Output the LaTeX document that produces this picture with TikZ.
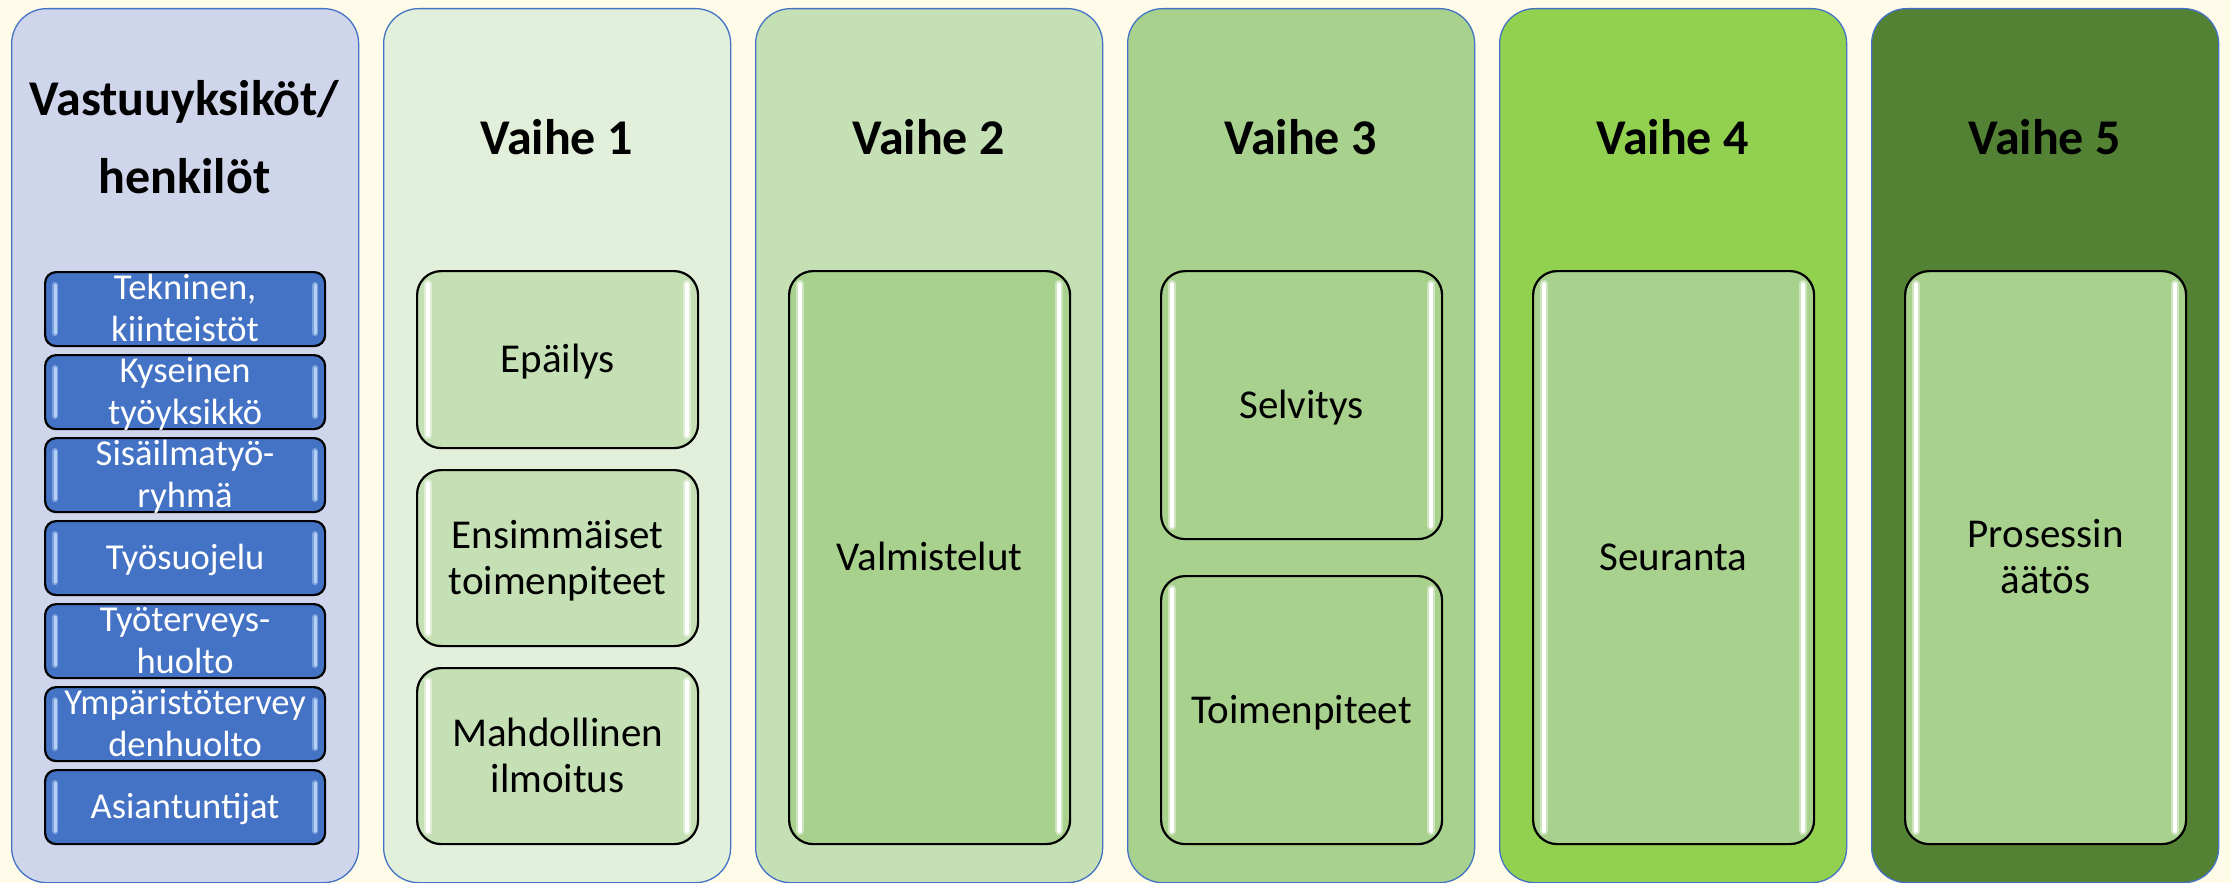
\documentclass[tikz,border=0pt]{standalone}
\usepackage{fontspec}
\setmainfont{Carlito}
\definecolor{bgc}{HTML}{FEFCE8}
\definecolor{colA}{HTML}{CFD5EA}
\definecolor{colB}{HTML}{E2EFDA}
\definecolor{colC}{HTML}{C5E0B4}
\definecolor{colD}{HTML}{A9D18E}
\definecolor{colE}{HTML}{92D050}
\definecolor{colF}{HTML}{548235}
\definecolor{edgeblue}{HTML}{4472C4}
\definecolor{boxblue}{HTML}{4472C4}
\definecolor{glossblue}{HTML}{B4D0F4}
\newcommand\gst{\rule[-9.8pt]{0pt}{46pt}}
\newcommand\bst{\rule[-9.25pt]{0pt}{42pt}}
\newcommand\hst{\rule[-22.9pt]{0pt}{78pt}}
\newcommand\glosspair[3]{%
  \draw[#2] ([xshift=#3,yshift=-14pt]#1.north west) -- ([xshift=#3,yshift=14pt]#1.south west);
  \draw[#2] ([xshift=-#3,yshift=-14pt]#1.north east) -- ([xshift=-#3,yshift=14pt]#1.south east);}
\tikzset{
  column/.style={rectangle, rounded corners=35pt, draw=edgeblue, line width=1.3pt,
    minimum width=347pt, minimum height=874pt, anchor=north west, inner sep=0pt},
  bluebox/.style={rectangle, rounded corners=11pt, draw=black, line width=2.2pt, fill=boxblue,
    minimum width=280pt, minimum height=74pt, anchor=north west, inner sep=0pt},
  greenbox/.style={rectangle, rounded corners=24pt, draw=black, line width=2.2pt,
    minimum width=281pt, anchor=north west, inner sep=0pt},
  heading/.style={font=\fontsize{50}{78}\selectfont\bfseries, align=center, inner sep=0pt, text=black},
  bluetext/.style={font=\fontsize{36.5}{42}\selectfont, align=center, inner sep=0pt, text=white},
  greentext/.style={font=\fontsize{41}{46}\selectfont, align=center, inner sep=0pt, text=black},
  glowg/.style={white, opacity=0.45, line width=8pt, line cap=round},
  lineg/.style={white, line width=3.5pt, line cap=round},
  glowb/.style={glossblue, opacity=0.5, line width=6pt, line cap=round},
  lineb/.style={glossblue, line width=3pt, line cap=round}
}
\begin{document}
\begin{tikzpicture}[x=1pt, y=-1pt]
\fill[bgc] (0,0) rectangle (2231,883);
\useasboundingbox (0,0) rectangle (2231,883);
% columns
\node[column, fill=colA] (c0) at (11,8) {};
\node[column, fill=colB] (c1) at (383,8) {};
\node[column, fill=colC] (c2) at (755,8) {};
\node[column, fill=colD] (c3) at (1127,8) {};
\node[column, fill=colE] (c4) at (1499,8) {};
\node[column, fill=colF] (c5) at (1871,8) {};
% headings
\node[heading] (h0) at (184.5,138.5) {\hst Vastuuyksiköt/\\\hst henkilöt};
\node[heading] (h1) at (556.5,138.5) {\hst Vaihe 1};
\node[heading] (h2) at (928.5,138.5) {\hst Vaihe 2};
\node[heading] (h3) at (1300.5,138.5) {\hst Vaihe 3};
\node[heading] (h4) at (1672.5,138.5) {\hst Vaihe 4};
\node[heading] (h5) at (2044.5,138.5) {\hst Vaihe 5};
% blue boxes
\node[bluebox] (b1) at (44,271) {};
\node[bluebox] (b2) at (44,354) {};
\node[bluebox] (b3) at (44,437) {};
\node[bluebox] (b4) at (44,520) {};
\node[bluebox] (b5) at (44,603) {};
\node[bluebox] (b6) at (44,686) {};
\node[bluebox] (b7) at (44,769) {};
\foreach \b in {b1,b2,b3,b4,b5,b6,b7}{
  \glosspair{\b}{glowb}{11pt}
  \glosspair{\b}{lineb}{11pt}
}
\node[bluetext] (tb1) at (b1.center) {\bst Tekninen,\\\bst kiinteistöt};
\node[bluetext] (tb2) at (b2.center) {\bst Kyseinen\\\bst työyksikkö};
\node[bluetext] (tb3) at (b3.center) {\bst Sisäilmatyö-\\\bst ryhmä};
\node[bluetext] (tb4) at (b4.center) {\bst Työsuojelu};
\node[bluetext] (tb5) at (b5.center) {\bst Työterveys-\\\bst huolto};
\node[bluetext] (tb6) at (b6.center) {\bst Ympäristötervey\\\bst denhuolto};
\node[bluetext] (tb7) at (b7.center) {\bst Asiantuntijat};
% green boxes
\node[greenbox, fill=colC, minimum height=177pt] (g1) at (416,270) {};
\node[greenbox, fill=colC, minimum height=176pt] (g2) at (416,469) {};
\node[greenbox, fill=colC, minimum height=176pt] (g3) at (416,667) {};
\node[greenbox, fill=colD, minimum height=573pt] (g4) at (788,270) {};
\node[greenbox, fill=colD, minimum height=268pt] (g5) at (1160,270) {};
\node[greenbox, fill=colD, minimum height=268pt] (g6) at (1160,575) {};
\node[greenbox, fill=colD, minimum height=573pt] (g7) at (1532,270) {};
\node[greenbox, fill=colD, minimum height=573pt] (g8) at (1904,270) {};
\foreach \g in {g1,g2,g3,g4,g5,g6,g7,g8}{
  \glosspair{\g}{glowg}{12pt}
  \glosspair{\g}{lineg}{12pt}
}
\node[greentext] (tg1) at (g1.center) {\gst Epäilys};
\node[greentext] (tg2) at (g2.center) {\gst Ensimmäiset\\\gst toimenpiteet};
\node[greentext] (tg3) at (g3.center) {\gst Mahdollinen\\\gst ilmoitus};
\node[greentext] (tg4) at (g4.center) {\gst Valmistelut};
\node[greentext] (tg5) at (g5.center) {\gst Selvitys};
\node[greentext] (tg6) at (g6.center) {\gst Toimenpiteet};
\node[greentext] (tg7) at (g7.center) {\gst Seuranta};
\node[greentext] (tg8) at (g8.center) {\gst Prosessin\\\gst äätös};
\end{tikzpicture}
\end{document}
